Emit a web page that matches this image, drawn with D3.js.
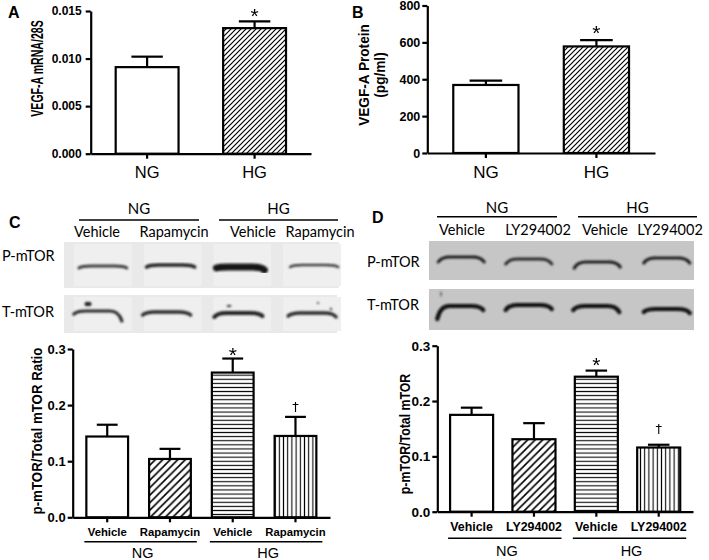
<!DOCTYPE html>
<html><head><meta charset="utf-8">
<script src="https://cdn.jsdelivr.net/npm/d3@7"></script>
<style>body{margin:0;background:#fff}</style>
</head><body><svg id="c" width="709" height="560"></svg>
<script>
// ---------- data ----------
const groupLabels = ["NG", "HG"];
const aCategories = ["NG", "HG"];
const aValues = [0.0091, 0.0132];
const aErrors = [0.0011, 0.0007];
const aTicks = [0, 0.005, 0.010, 0.015];
const aSig = ["", "*"];
const bCategories = ["NG", "HG"];
const bValues = [369, 578];
const bErrors = [24, 34];
const bTicks = [0, 200, 400, 600, 800];
const bSig = ["", "*"];
const cLabels = ["Vehicle", "Rapamycin", "Vehicle", "Rapamycin"];
const cValues = [0.144, 0.104, 0.258, 0.145];
const cErrors = [0.021, 0.018, 0.025, 0.034];
const cSig = ["", "", "*", "†"];
const dLabels = ["Vehicle", "LY294002", "Vehicle", "LY294002"];
const dValues = [0.175, 0.131, 0.244, 0.116];
const dErrors = [0.013, 0.029, 0.011, 0.005];
const dSig = ["", "", "*", "†"];
const ratioTicks = [0, 0.1, 0.2, 0.3];
const blotRows = ["P-mTOR", "T-mTOR"];
// relative band intensities read from the blots
const cBandP = [0.74, 0.84, 0.92, 0.74];
const cBandT = [0.82, 0.82, 0.85, 0.82];
const dBandP = [0.85, 0.78, 0.85, 0.85];
const dBandT = [0.95, 0.95, 0.95, 0.95];

// ---------- setup ----------
const FONT = "Liberation Sans, Arial, sans-serif";
const svg = d3.select("#c");
svg.append("rect").attr("width", 709).attr("height", 560).attr("fill", "#fff");
const defs = svg.append("defs");
function diag(id, s, sw) {
  const p = defs.append("pattern").attr("id", id).attr("patternUnits", "userSpaceOnUse")
    .attr("width", s).attr("height", s);
  p.append("rect").attr("width", s).attr("height", s).attr("fill", "#fff");
  p.append("path").attr("d", `M0,${s} L${s},0 M${-s/2},${s/2} L${s/2},${-s/2} M${s/2},${s*1.5} L${s*1.5},${s/2}`)
    .attr("stroke", "#000").attr("stroke-width", sw);
}
function lines(id, s, sw, horiz) {
  const p = defs.append("pattern").attr("id", id).attr("patternUnits", "userSpaceOnUse")
    .attr("width", s).attr("height", s);
  p.append("rect").attr("width", s).attr("height", s).attr("fill", "#fff");
  p.append("path").attr("d", horiz ? `M0,${s/2} L${s},${s/2}` : `M${s/2},0 L${s/2},${s}`)
    .attr("stroke", "#000").attr("stroke-width", sw);
}
diag("diagA", 5, 1.2);
diag("diagC", 7.5, 1.6);
lines("horiz", 4.1, 1.1, true);
lines("vert", 4.2, 1.1, false);
defs.append("filter").attr("id", "blur").attr("x", "-10%").attr("y", "-50%").attr("width", "120%").attr("height", "200%")
  .append("feGaussianBlur").attr("stdDeviation", 0.8);
defs.append("filter").attr("id", "gray").attr("x", "-50%").attr("y", "-50%").attr("width", "200%").attr("height", "200%")
  .append("feOffset").attr("dx", 0).attr("dy", 0);

const SW = 2.2;
function barChart(o) {
  const g = svg.append("g");
  const y = d3.scaleLinear().domain(o.domain).range([o.y0, o.y1]);
  const x = d3.scaleBand().domain(d3.range(o.values.length)).range([o.x0, o.x1])
    .paddingInner(0).paddingOuter(o.po);
  const w = x.bandwidth() * o.bw;
  const cw = w * 0.5;
  g.selectAll("rect.bar").data(o.values).join("rect").attr("class", "bar")
    .attr("x", (d, i) => x(i) + (x.bandwidth() - w) / 2)
    .attr("y", d => y(d)).attr("width", w).attr("height", d => y(0) - y(d))
    .attr("fill", (d, i) => o.fills[i]).attr("stroke", "#000").attr("stroke-width", SW);
  o.values.forEach((v, i) => {
    const cx = x(i) + x.bandwidth() / 2;
    const top = y(v + o.errors[i]);
    g.append("line").attr("x1", cx).attr("x2", cx).attr("y1", y(v)).attr("y2", top)
      .attr("stroke", "#000").attr("stroke-width", SW);
    g.append("line").attr("x1", cx - cw / 2).attr("x2", cx + cw / 2).attr("y1", top).attr("y2", top)
      .attr("stroke", "#000").attr("stroke-width", SW);
    if (o.sig[i]) {
      const star = o.sig[i] === "*";
      g.append("text").attr("x", cx).attr("y", top - (star ? o.starGap : o.dagGap))
        .attr("text-anchor", "middle").attr("fill", "#000")
        .attr("filter", "url(#gray)")
        .attr("font-family", star ? FONT : "DejaVu Sans, sans-serif")
        .attr("font-size", star ? 21 : 13).text(o.sig[i]);
    }
  });
  const ya = g.append("g").attr("transform", `translate(${o.x0},0)`)
    .call(d3.axisLeft(y).tickValues(o.ticks).tickSize(o.tick).tickSizeOuter(0).tickPadding(o.tpad).tickFormat(o.fmt));
  ya.selectAll("path,line").attr("stroke", "#000").attr("stroke-width", SW);
  ya.selectAll("text").attr("font-family", FONT)
    .attr("font-weight", "bold").attr("font-size", o.tfs).attr("fill", "#000");
  const xa = g.append("g").attr("transform", `translate(0,${o.y0})`)
    .call(d3.axisBottom(x).tickSize(o.tick).tickSizeOuter(0).tickPadding(o.xpad).tickFormat(i => o.labels[i]));
  xa.selectAll("path,line").attr("stroke", "#000").attr("stroke-width", SW);
  xa.selectAll("text").attr("font-family", FONT)
    .attr("font-weight", o.xbold ? "bold" : "normal").attr("font-size", o.xfs).attr("fill", "#000");
  o.title.forEach((t, k) => {
    g.append("text").attr("transform", `translate(${o.tx[k]},${o.ty}) rotate(-90) scale(${o.tsx},1)`)
      .attr("text-anchor", "middle").attr("dominant-baseline", "central")
      .attr("font-family", FONT).attr("font-weight", "bold")
      .attr("font-size", o.titleFs).text(t);
  });
  if (o.groups) {
    [0, 1].forEach(k => {
      const a = x(2 * k) + (x.bandwidth() - w) / 2 - 2;
      const b = x(2 * k + 1) + (x.bandwidth() + w) / 2 + 6;
      g.append("line").attr("x1", a).attr("x2", b).attr("y1", o.uy).attr("y2", o.uy)
        .attr("stroke", "#000").attr("stroke-width", 1.6);
      g.append("text").attr("x", (a + b) / 2 + 2).attr("y", o.gy).attr("text-anchor", "middle")
        .attr("font-family", FONT).attr("font-size", o.gfs).text(groupLabels[k]);
    });
  }
  return g;
}

function letter(t, x, yb) {
  svg.append("text").attr("x", x).attr("y", yb).attr("font-family", FONT)
    .attr("font-weight", "bold").attr("font-size", 16).text(t);
}

// ---------- Panel A ----------
letter("A", 8, 18);
barChart({
  values: aValues, errors: aErrors, sig: aSig, labels: aCategories, ticks: aTicks,
  domain: [0, 0.015], y0: 153.7, y1: 11, x0: 90.7, x1: 311, po: 0.025, bw: 0.585,
  fills: ["#fff", "url(#diagA)"], tick: 5, tpad: 4, tfs: 12, fmt: d3.format(".3f"),
  xpad: 8, xfs: 16.5, xbold: false, starGap: -2, dagGap: 3,
  title: ["VEGF-A mRNA/28S"], tx: [37.5], ty: 68.5, titleFs: 16, tsx: 0.66
});

// ---------- Panel B ----------
letter("B", 352, 18);
barChart({
  values: bValues, errors: bErrors, sig: bSig, labels: bCategories, ticks: bTicks,
  domain: [0, 800], y0: 153, y1: 5.5, x0: 427.3, x1: 655, po: 0.03, bw: 0.59,
  fills: ["#fff", "url(#diagA)"], tick: 5, tpad: 2, tfs: 12.5, fmt: d3.format("d"),
  xpad: 8, xfs: 17, xbold: false, starGap: 0.5, dagGap: 3,
  title: ["VEGF-A Protein", "(pg/ml)"], tx: [364, 379.5], ty: 75, titleFs: 15.5, tsx: 0.88
});

// ---------- Blots ----------
function header(x0, x1, x2, x3, lineY, gyb, lyb, laneLabels, laneX) {
  [[x0, x1], [x2, x3]].forEach((r, k) => {
    svg.append("line").attr("x1", r[0]).attr("x2", r[1]).attr("y1", lineY).attr("y2", lineY)
      .attr("stroke", "#000").attr("stroke-width", 1.6);
    svg.append("text").attr("x", (r[0] + r[1]) / 2).attr("y", gyb).attr("text-anchor", "middle")
      .attr("font-family", "Lato, sans-serif").attr("font-size", 15).text(groupLabels[k]);
  });
  laneLabels.forEach((t, i) => {
    svg.append("text").attr("x", laneX[i]).attr("y", lyb).attr("text-anchor", "middle")
      .attr("font-family", "Lato, sans-serif").attr("font-size", 14.5).text(t);
  });
}
function blot(o) {
  const lanes = d3.scaleBand().domain(d3.range(4)).range([o.lx0, o.lx1]);
  o.rows.forEach((r, k) => {
    svg.append("text").attr("x", o.labelX).attr("y", r.ly).attr("font-family", "Lato, sans-serif")
      .attr("font-size", 14.5).text(blotRows[k]);
    svg.append("rect").attr("x", r.x0).attr("y", r.y0).attr("width", r.x1 - r.x0).attr("height", r.y1 - r.y0)
      .attr("fill", o.bg);
    if (o.laneBg) {
      d3.range(4).forEach(i => {
        svg.append("rect").attr("x", lanes(i) + 6).attr("y", r.y0 + 2).attr("width", lanes.bandwidth() - 12)
          .attr("height", r.y1 - r.y0 - 4).attr("fill", o.laneBg);
      });
    }
    const gb = svg.append("g").attr("filter", "url(#blur)");
    r.intensity.forEach((v, i) => {
      const a = lanes(i) + (lanes.bandwidth() - o.bandW) / 2 + r.shift[i];
      const b = a + o.bandW;
      const yc = r.y[i];
      const dl = r.dropL[i], dr = r.dropR[i];
      const d = `M${a},${yc + dl} Q${a + 3},${yc - 1} ${a + 12},${yc - 1} L${b - 12},${yc - 1} Q${b - 3},${yc - 1} ${b},${yc + dr}`;
      gb.append("path").attr("d", d).attr("fill", "none")
        .attr("stroke", d3.interpolateRgb(o.bg, "#000")(v)).attr("stroke-width", r.th[i])
        .attr("stroke-linecap", "round");
    });
    (r.specks || []).forEach(s => {
      gb.append("ellipse").attr("cx", s[0]).attr("cy", s[1]).attr("rx", s[2]).attr("ry", s[3]).attr("fill", "#222");
    });
  });
}

// ---------- Panel C ----------
letter("C", 9, 228);
header(79, 199, 219, 338, 220, 214, 237.3, ["Vehicle", "Rapamycin", "Vehicle", "Rapamycin"], [97, 174, 253, 320]);
blot({
  lx0: 68, lx1: 347, bandW: 48, labelX: 2, bg: "#e9e9e9", laneBg: "#efefef",
  rows: [
    { ly: 261, x0: 64, x1: 339, y0: 242, y1: 288, intensity: cBandP, y: [267, 266, 268, 266],
      th: [3, 3.6, 7, 2.6], dropL: [1, 1, 0, 1], dropR: [1, 1, 2, 1], shift: [0, -2, -2, 2] },
    { ly: 316.7, x0: 64, x1: 337, y0: 295, y1: 333, intensity: cBandT, y: [312, 313, 314, 314],
      th: [3.2, 3.4, 4, 3.4], dropL: [2, 2, 3, 2], dropR: [9, 2, 2, 3], shift: [-5, -6, -4, 0],
      specks: [[88, 304, 3.5, 2.2], [229, 306, 2.5, 1], [318, 303, 1, 1], [331, 309, 1, 1.2]] }
  ]
});
barChart({
  values: cValues, errors: cErrors, sig: cSig, labels: cLabels, ticks: ratioTicks,
  domain: [0, 0.3], y0: 517.3, y1: 349, x0: 72.7, x1: 330, po: 0.05, bw: 0.665,
  fills: ["#fff", "url(#diagC)", "url(#horiz)", "url(#vert)"], tick: 5, tpad: 2, tfs: 13, fmt: d3.format(".1f"),
  xpad: 6, xfs: 11.3, xbold: true, starGap: -3.5, dagGap: 6,
  title: ["p-mTOR/Total mTOR Ratio"], tx: [37.5], ty: 431, titleFs: 14, tsx: 0.95,
  groups: true, uy: 541.7, gy: 557.5, gfs: 14.5
});

// ---------- Panel D ----------
letter("D", 372, 223);
header(437, 557, 578, 697, 216.7, 213.3, 235, ["Vehicle", "LY294002", "Vehicle", "LY294002"], [462, 538, 605, 670]);
blot({
  lx0: 427, lx1: 701, bandW: 46, labelX: 367, bg: "#c6c6c6", laneBg: null,
  rows: [
    { ly: 266.7, x0: 429, x1: 694, y0: 241, y1: 280, intensity: dBandP, y: [258, 260, 263, 259],
      th: [3, 3, 3.2, 3.2], dropL: [4, 4, 5, 4], dropR: [4, 4, 4, 4], shift: [0, -1, -1, 0] },
    { ly: 310, x0: 429, x1: 694, y0: 289, y1: 330, intensity: dBandT, y: [307, 306, 307, 310],
      th: [4.2, 4.2, 4.2, 4.2], dropL: [12, 4, 3, 2], dropR: [3, 3, 5, 3], shift: [-1, -1, -2, 0],
      specks: [[441, 294, 0.6, 2.5]] }
  ]
});
barChart({
  values: dValues, errors: dErrors, sig: dSig, labels: dLabels, ticks: ratioTicks,
  domain: [0, 0.3], y0: 511.7, y1: 345.7, x0: 437.3, x1: 693, po: 0.05, bw: 0.69,
  fills: ["#fff", "url(#diagC)", "url(#horiz)", "url(#vert)"], tick: 5, tpad: 2, tfs: 13.5, fmt: d3.format(".1f"),
  xpad: 6, xfs: 12.4, xbold: true, starGap: -1.5, dagGap: 12,
  title: ["p-mTOR/Total mTOR"], tx: [405], ty: 434, titleFs: 14, tsx: 0.88,
  groups: true, uy: 538.3, gy: 555.5, gfs: 14.5
});
</script></body></html>
